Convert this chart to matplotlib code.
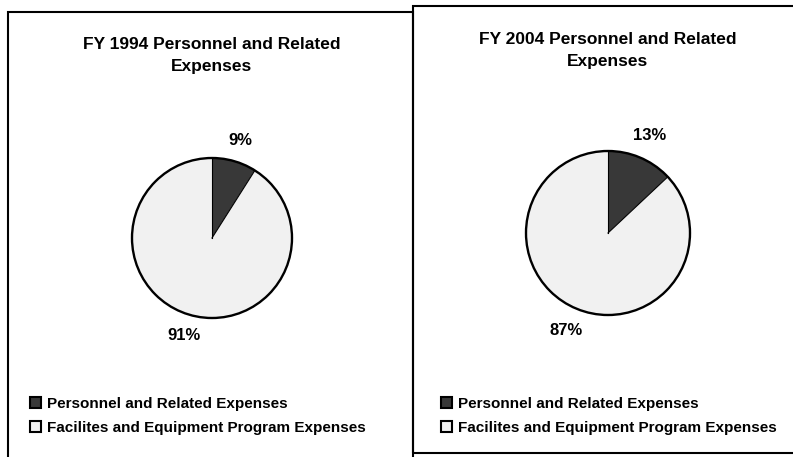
import numpy as np
import matplotlib.pyplot as plt
from matplotlib.patches import Rectangle

plt.rcParams['font.family'] = ['Liberation Sans', 'DejaVu Sans']
plt.rcParams['font.weight'] = 'bold'

# data
categories = ["Personnel and Related Expenses", "Facilites and Equipment Program Expenses"]
titles = ["FY 1994 Personnel and Related\nExpenses", "FY 2004 Personnel and Related\nExpenses"]
share_1994 = [9, 91]
share_2004 = [13, 87]
colors = ["#383838", "#f1f1f1"]

W, H = 793, 457
fig = plt.figure(figsize=(W / 100, H / 100), dpi=100)


def px_box(cx, cy, r):
    # axes box in figure fraction from pixel centre / radius
    return [(cx - r) / W, 1 - (cy + r) / H, 2 * r / W, 2 * r / H]


panels = [
    # (values, title, pie centre x, y, radius, title y, legend x, legend y, pctdist)
    (share_1994, titles[0], 212, 238, 80, 37, 30, 397, 1.27),
    (share_2004, titles[1], 608, 233, 82, 32, 441, 397, 1.29),
]

for vals, title, cx, cy, r, ty, lx, ly, pd in panels:
    ax = fig.add_axes(px_box(cx, cy, r))
    wedges, texts, autotexts = ax.pie(vals, colors=colors, startangle=90, counterclock=False,
                                      radius=1, autopct='%.0f%%', pctdistance=pd,
                                      wedgeprops=dict(linewidth=0),
                                      textprops=dict(fontsize=12, fontweight='bold'))
    for w in wedges:
        w.set_clip_on(False)
    # outline circle
    ax.add_patch(plt.Circle((0, 0), 1, fill=False, edgecolor='black', linewidth=1.7, clip_on=False))
    # radial edges of the dark slice
    for ang in [90, 90 - vals[0] * 3.6]:
        a = np.deg2rad(ang)
        ax.plot([0, np.cos(a)], [0, np.sin(a)], color='black', linewidth=0.8, clip_on=False)
    ax.set_xlim(-1, 1)
    ax.set_ylim(-1, 1)
    ax.set_aspect('equal')
    ax.axis('off')
    fig.text(cx / W, 1 - ty / H, title, ha='center', va='top', fontsize=12.5,
             fontweight='bold', linespacing=1.55)
    leg = fig.legend(wedges, categories, loc='upper left', bbox_to_anchor=(lx / W, 1 - ly / H),
                     frameon=False, fontsize=11, handlelength=0.7, handleheight=0.7,
                     handletextpad=0.4, labelspacing=0.65, borderpad=0, borderaxespad=0)
    for h in leg.legend_handles:
        h.set_edgecolor('black')
        h.set_linewidth(1.5)

# panel borders
fig.patches.append(Rectangle((8 / W, -0.01), (413 - 8) / W, 1 - 12 / H + 0.01,
                             transform=fig.transFigure, fill=False, edgecolor='black', linewidth=1.5))
fig.patches.append(Rectangle((413 / W, 1 - 453 / H), (800 - 413) / W, (453 - 6) / H,
                             transform=fig.transFigure, fill=False, edgecolor='black', linewidth=1.5))

fig.savefig("out.png", dpi=100)
